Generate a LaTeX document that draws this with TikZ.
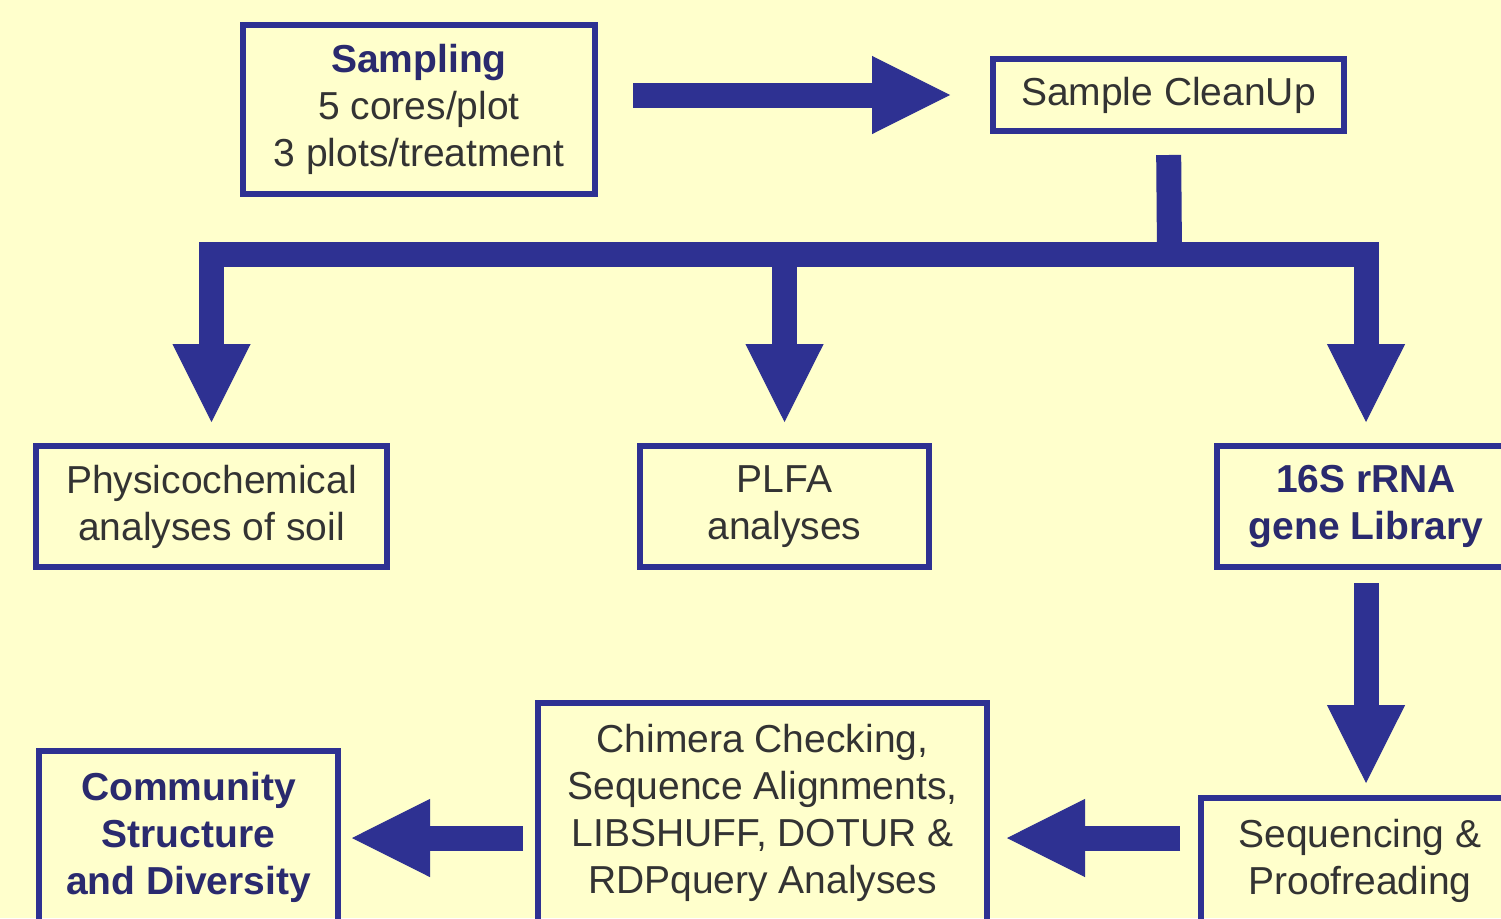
\documentclass[tikz,border=0pt]{standalone}
\usepackage{fontspec}
\setmainfont{Liberation Sans}
\usetikzlibrary{arrows.meta}
\definecolor{bgc}{HTML}{FFFFCC}
\definecolor{navy}{HTML}{2E3192}
\definecolor{txt}{HTML}{333333}
\definecolor{btxt}{HTML}{2A2A6E}
\tikzset{
  box/.style={draw=navy, line width=6pt, rectangle, inner sep=0pt, align=center,
    text=txt, font=\fontsize{39}{47}\selectfont},
  bold/.style={text=btxt, font=\fontsize{39}{47}\selectfont\bfseries},
  flow/.style={draw=navy, line width=25pt, line join=miter,
    -{Triangle[length=78pt,width=78pt,line width=1pt]}},
  bar/.style={draw=navy, line width=25pt}
}
\begin{document}
\begin{tikzpicture}[x=1pt,y=-1pt]
\useasboundingbox (0,0) rectangle (1501,918);
\fill[bgc] (0,0) rectangle (1501,918);
\clip (0,0) rectangle (1501,918);

\node[box, minimum width=352pt, minimum height=169pt] (samp) at (419,109.5)
  {{\color{btxt}\bfseries Sampling}\\5 cores/plot\\3 plots/treatment};
\node[box, minimum width=351pt, minimum height=72pt] (clean) at (1168.5,95) {Sample CleanUp};
\node[box, minimum width=351pt, minimum height=121pt] (phys) at (211.5,506.5)
  {Physicochemical\\analyses of soil};
\node[box, minimum width=289pt, minimum height=121pt] (plfa) at (784.5,506.5)
  {PLFA\\analyses};
\node[box, bold, minimum width=298pt, minimum height=121pt] (lib) at (1366,506.5)
  {16S rRNA\\gene Library};
\node[box, minimum width=318pt, minimum height=126pt] (seq) at (1360,861)
  {Sequencing \&\\Proofreading};
\node[box, minimum width=449pt, minimum height=220pt] (chim) at (762.5,813)
  {Chimera Checking,\\Sequence Alignments,\\LIBSHUFF, DOTUR \&\\RDPquery Analyses};
\node[box, bold, minimum width=299pt, minimum height=172pt] (comm) at (188.5,837)
  {Community\\Structure\\and Diversity};

\coordinate (j) at (1169.5,254);
\coordinate (r) at (0,838);

\draw[flow, shorten <=35pt, shorten >=40pt] (samp.east |- clean.west) -- (clean.west);
\draw[bar, shorten <=21pt] (clean.south) -- (j);
\draw[flow, shorten >=21pt] (j) -| (phys.north);
\draw[flow, shorten >=21pt] (j) -| (lib.north);
\draw[flow, shorten >=21pt] (plfa.north |- j) -- (plfa.north);
\draw[flow, shorten <=13pt, shorten >=12pt] (lib.south) -- (lib.south |- seq.north);
\draw[flow, shorten <=18pt, shorten >=17pt] (seq.west |- r) -- (chim.east |- r);
\draw[flow, shorten <=12pt, shorten >=11pt] (chim.west |- r) -- (comm.east |- r);
\end{tikzpicture}
\end{document}
